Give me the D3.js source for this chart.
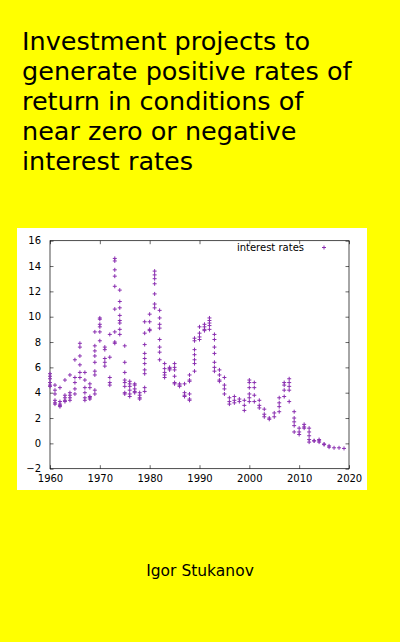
<!DOCTYPE html><html><head><meta charset="utf-8"><script src="https://d3js.org/d3.v7.min.js"></script>
<style>body{margin:0;background:#ffff00;}svg{display:block}</style></head><body><svg width="400" height="642"></svg>
<script>
const titleLines=["Investment projects to","generate positive rates of","return in conditions of","near zero or negative","interest rates"];
const author="Igor Stukanov";
const years=d3.range(1960,2020);
const rates=[
[5.5,5.3,5.1,4.8,4.6,4.5],[4.6,4.2,3.9,3.4,3.2,3.1],[4.4,3.3,3.1,3.0,2.9],[5.0,3.8,3.6,3.4,3.3],[5.4,4.0,3.8,3.6,3.4],
[6.6,5.2,4.8,4.3,3.9],[7.9,7.6,6.9,6.2,5.6,5.2],[5.6,5.0,4.4,4.0,3.6,3.4],[4.7,4.4,3.7,3.6,3.5],[8.8,7.7,7.3,6.9,6.4,5.7,5.4,4.2,3.9],
[9.9,9.8,9.4,9.2,8.8,8.1],[7.6,7.4,6.7,6.4,6.1],[8.6,6.8,5.2,4.8,4.6],[14.6,14.4,13.7,13.2,12.4,10.6,8.8,8.0,7.9],[12.1,11.2,10.7,10.1,9.7,9.5,9.0,8.6],
[7.7,6.4,5.6,5.0,4.8,4.5,4.0,3.9],[4.9,4.7,4.5,4.2,3.9,3.7],[4.7,4.6,4.3,4.1,4.0],[4.0,3.8,3.6,3.5],[9.6,8.7,7.8,7.1,6.7,6.3,5.8,5.5,4.4,4.1],
[10.2,9.6,9.0,8.9],[13.6,13.3,13.0,12.6,11.8,11.0,10.7],[10.5,9.9,9.4,9.1,8.2,7.6,7.2,6.6],[6.3,5.9,5.6,5.4,5.2],[6.0,5.9,5.8],
[6.3,6.0,5.8,5.3,4.8,4.7],[4.7,4.6,4.5],[4.7,4.0,3.8,3.7],[5.4,5.0,4.9,3.9,3.5,3.4],[8.3,8.1,7.4,7.0,6.6,6.3,5.7],
[9.2,8.7,8.4,8.2],[9.4,9.2,9.0,8.9],[9.9,9.7,9.5,9.3,9.0],[8.6,8.2,7.6,7.1,6.4,6.0,5.7],[5.8,5.4,5.0,4.9],
[5.2,4.6,4.3,3.9],[3.6,3.3,3.1],[3.7,3.4,3.2],[3.5,3.3],[3.4,3.0,2.6],
[5.0,4.8,4.4,3.9,3.6,3.3],[4.8,4.4,3.8,3.3],[3.4,3.0,2.8],[2.7,2.3,2.1],[2.0,1.9],
[2.4,2.1],[3.6,3.2,2.9,2.5],[4.8,4.6,4.2,3.7],[5.1,4.8,4.5,4.2,3.3],[2.5,2.0,1.7,1.4,0.9],
[1.2,0.9,0.7],[1.5,1.3,1.2],[1.2,0.9,0.6,0.3,0.1],[0.2,0.2],[0.3,0.2,0.1],
[-0.05,-0.1],[-0.2,-0.3],[-0.35],[-0.35],[-0.4]];
const xTicks=[1960,1970,1980,1990,2000,2010,2020];
const yTicks=d3.range(-2,17,2);
const legendLabel="interest rates";

const svg=d3.select("svg");
const font="DejaVu Sans, sans-serif";
const t=svg.append("text").attr("font-family",font).attr("font-size",25.5).attr("fill","#000");
titleLines.forEach((l,i)=>t.append("tspan").attr("x",22).attr("y",50+i*30).text(l));
svg.append("text").attr("x",200).attr("y",576).attr("text-anchor","middle").attr("font-family",font).attr("font-size",15.5).text(author);

svg.append("rect").attr("x",17).attr("y",228).attr("width",350).attr("height",262).attr("fill","#fff");
const x=d3.scaleLinear().domain([1960,2020]).range([50,349]);
const y=d3.scaleLinear().domain([-2,16]).range([468.7,240.7]);
const g=svg.append("g");
const style=sel=>{sel.select(".domain").remove();sel.selectAll("line").attr("stroke","#000").attr("stroke-width",0.6);sel.selectAll("text").attr("font-family",font).attr("font-size",10).attr("fill","#000");};
g.append("g").attr("transform","translate(0,468.7)").call(d3.axisBottom(x).tickValues(xTicks).tickFormat(d3.format("d")).tickSizeInner(-3.5).tickSizeOuter(0).tickPadding(6)).call(style);
g.append("g").attr("transform","translate(0,240.7)").call(d3.axisTop(x).tickValues(xTicks).tickSizeInner(-3.5).tickSizeOuter(0).tickFormat("")).call(style);
g.append("g").attr("transform","translate(50,0)").call(d3.axisLeft(y).tickValues(yTicks).tickSizeInner(-3.5).tickSizeOuter(0).tickPadding(9)).call(style);
g.append("g").attr("transform","translate(349,0)").call(d3.axisRight(y).tickValues(yTicks).tickSizeInner(-3.5).tickSizeOuter(0).tickFormat("")).call(style);
svg.append("rect").attr("x",50).attr("y",240.7).attr("width",299).attr("height",228).attr("fill","none").attr("stroke","#000").attr("stroke-width",0.7);

const pts=[];years.forEach((yr,i)=>rates[i].forEach(v=>pts.push([yr,v])));
const col="#8a2fb0";
const plus=(sel)=>{sel.append("path").attr("d","M-2,0H2M0,-2V2").attr("stroke",col).attr("stroke-width",1);};
svg.append("g").selectAll("g").data(pts).join("g").attr("transform",d=>`translate(${x(d[0])},${y(d[1])})`).call(plus);
svg.append("text").attr("x",304).attr("y",251).attr("text-anchor","end").attr("font-family",font).attr("font-size",10).text(legendLabel);
svg.append("g").attr("transform","translate(324,247.5)").call(plus);
</script></body></html>
